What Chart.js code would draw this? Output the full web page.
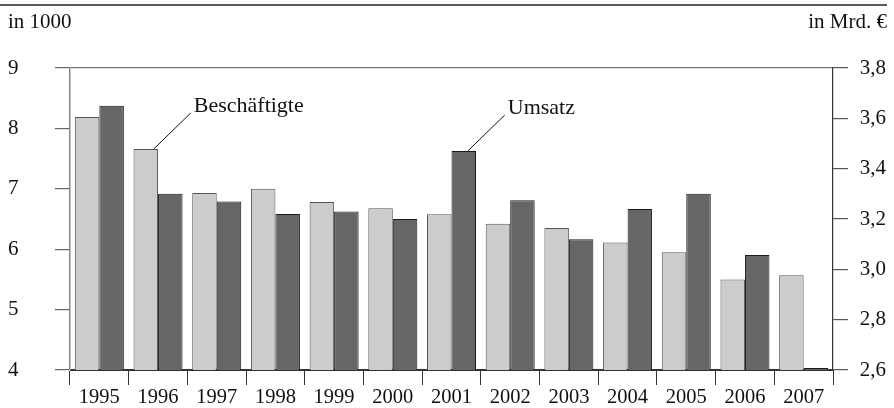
<!DOCTYPE html>
<html>
<head>
<meta charset="utf-8">
<script src="https://cdn.jsdelivr.net/npm/chart.js@4/dist/chart.umd.min.js"></script>
<style>
  html, body { margin: 0; padding: 0; background: #fff; }
  #wrap { width: 894px; height: 408px; position: relative; }
</style>
</head>
<body>
<div id="wrap"><canvas id="chart"></canvas></div>
<script>
// Data
const years = ["1995", "1996", "1997", "1998", "1999", "2000", "2001",
               "2002", "2003", "2004", "2005", "2006", "2007"];
const employees = [8.19, 7.66, 6.93, 7.0, 6.78, 6.68, 6.58, 6.42, 6.35, 6.11, 5.95, 5.5, 5.57]; // in 1000
const revenue = [3.65, 3.30, 3.27, 3.22, 3.23, 3.20, 3.47, 3.275, 3.12, 3.24, 3.30, 3.057, 2.608]; // in Mrd. €
const leftLabel = "in 1000";
const rightLabel = "in Mrd. €";
const employeesName = "Beschäftigte";
const revenueName = "Umsatz";

const serif = '"Liberation Serif", "Times New Roman", serif';

// header line + unit labels + leader annotations
const extras = {
    id: "extras",
    afterDraw(chart) {
        const c = chart.ctx;
        c.save();
        c.strokeStyle = "#222";
        c.lineWidth = 1.5;
        c.beginPath();
        c.moveTo(0, 5);
        c.lineTo(887, 5);
        c.stroke();

        c.fillStyle = "#111";
        c.font = "21px " + serif;
        c.textBaseline = "middle";
        c.textAlign = "left";
        c.fillText(leftLabel, 8, 22);
        c.textAlign = "right";
        c.fillText(rightLabel, 887, 22);

        // leader lines pointing at bars
        const notes = [
            { ds: 0, i: 1, text: employeesName, dx: 8 },
            { ds: 1, i: 6, text: revenueName, dx: 4 }
        ];
        c.lineWidth = 1;
        c.strokeStyle = "#111";
        c.font = "22px " + serif;
        c.textAlign = "left";
        notes.forEach(n => {
            const bar = chart.getDatasetMeta(n.ds).data[n.i];
            const x0 = bar.x + n.dx, y0 = bar.y;
            const x1 = x0 + 37, y1 = y0 - 36;
            c.beginPath();
            c.moveTo(x0, y0);
            c.lineTo(x1, y1);
            c.stroke();
            c.fillText(n.text, x1 + 3, y1 - 7);
        });
        c.restore();
    }
};

new Chart(document.getElementById("chart"), {
    type: "bar",
    data: {
        labels: years,
        datasets: [
            {
                label: employeesName,
                data: employees,
                yAxisID: "y",
                backgroundColor: "#cccccc",
                borderColor: "#555",
                borderWidth: 1,
                categoryPercentage: 0.835,
                barPercentage: 1.0
            },
            {
                label: revenueName,
                data: revenue,
                yAxisID: "y1",
                backgroundColor: "#666666",
                borderColor: "#1a1a1a",
                borderWidth: 1,
                categoryPercentage: 0.835,
                barPercentage: 1.0
            }
        ]
    },
    options: {
        responsive: true,
        maintainAspectRatio: false,
        animation: false,
        layout: { padding: { top: 68, left: 8, right: 8, bottom: 0 } },
        plugins: {
            legend: { display: false },
            tooltip: { enabled: false }
        },
        scales: {
            x: {
                grid: {
                    offset: true,
                    drawOnChartArea: false,
                    tickLength: 15,
                    color: "#333",
                    lineWidth: 1
                },
                border: { display: true, color: "#333", width: 1 },
                ticks: {
                    color: "#111",
                    font: { family: serif, size: 20.5 },
                    padding: 0,
                    maxRotation: 0
                },
                afterFit(scale) { scale.height = 38; }
            },
            y: {
                position: "left",
                min: 4,
                max: 9,
                grid: {
                    drawOnChartArea: true,
                    tickLength: 15,
                    color: ctx => {
                        if (!ctx.tick) return "rgba(0,0,0,0)";
                        if (ctx.tick.value === 9) return "#777";
                        if (ctx.tick.value === 4) return "#333";
                        return "rgba(0,0,0,0)";
                    },
                    tickColor: "#666",
                    lineWidth: 1.2
                },
                border: { display: true, color: "#888", width: 1.5 },
                ticks: {
                    stepSize: 1,
                    color: "#111",
                    font: { family: serif, size: 21 },
                    crossAlign: "far",
                    padding: 0
                },
                afterFit(scale) { scale.width = 62; }
            },
            y1: {
                position: "right",
                min: 2.6,
                max: 3.8,
                grid: {
                    drawOnChartArea: false,
                    tickLength: 15,
                    color: "#555",
                    lineWidth: 1.2
                },
                border: { display: true, color: "#333", width: 1.2 },
                ticks: {
                    stepSize: 0.2,
                    color: "#111",
                    font: { family: serif, size: 21 },
                    crossAlign: "far",
                    padding: 0,
                    callback: v => v.toFixed(1).replace(".", ",")
                },
                afterFit(scale) { scale.width = 53; }
            }
        }
    },
    plugins: [extras]
});
</script>
</body>
</html>
